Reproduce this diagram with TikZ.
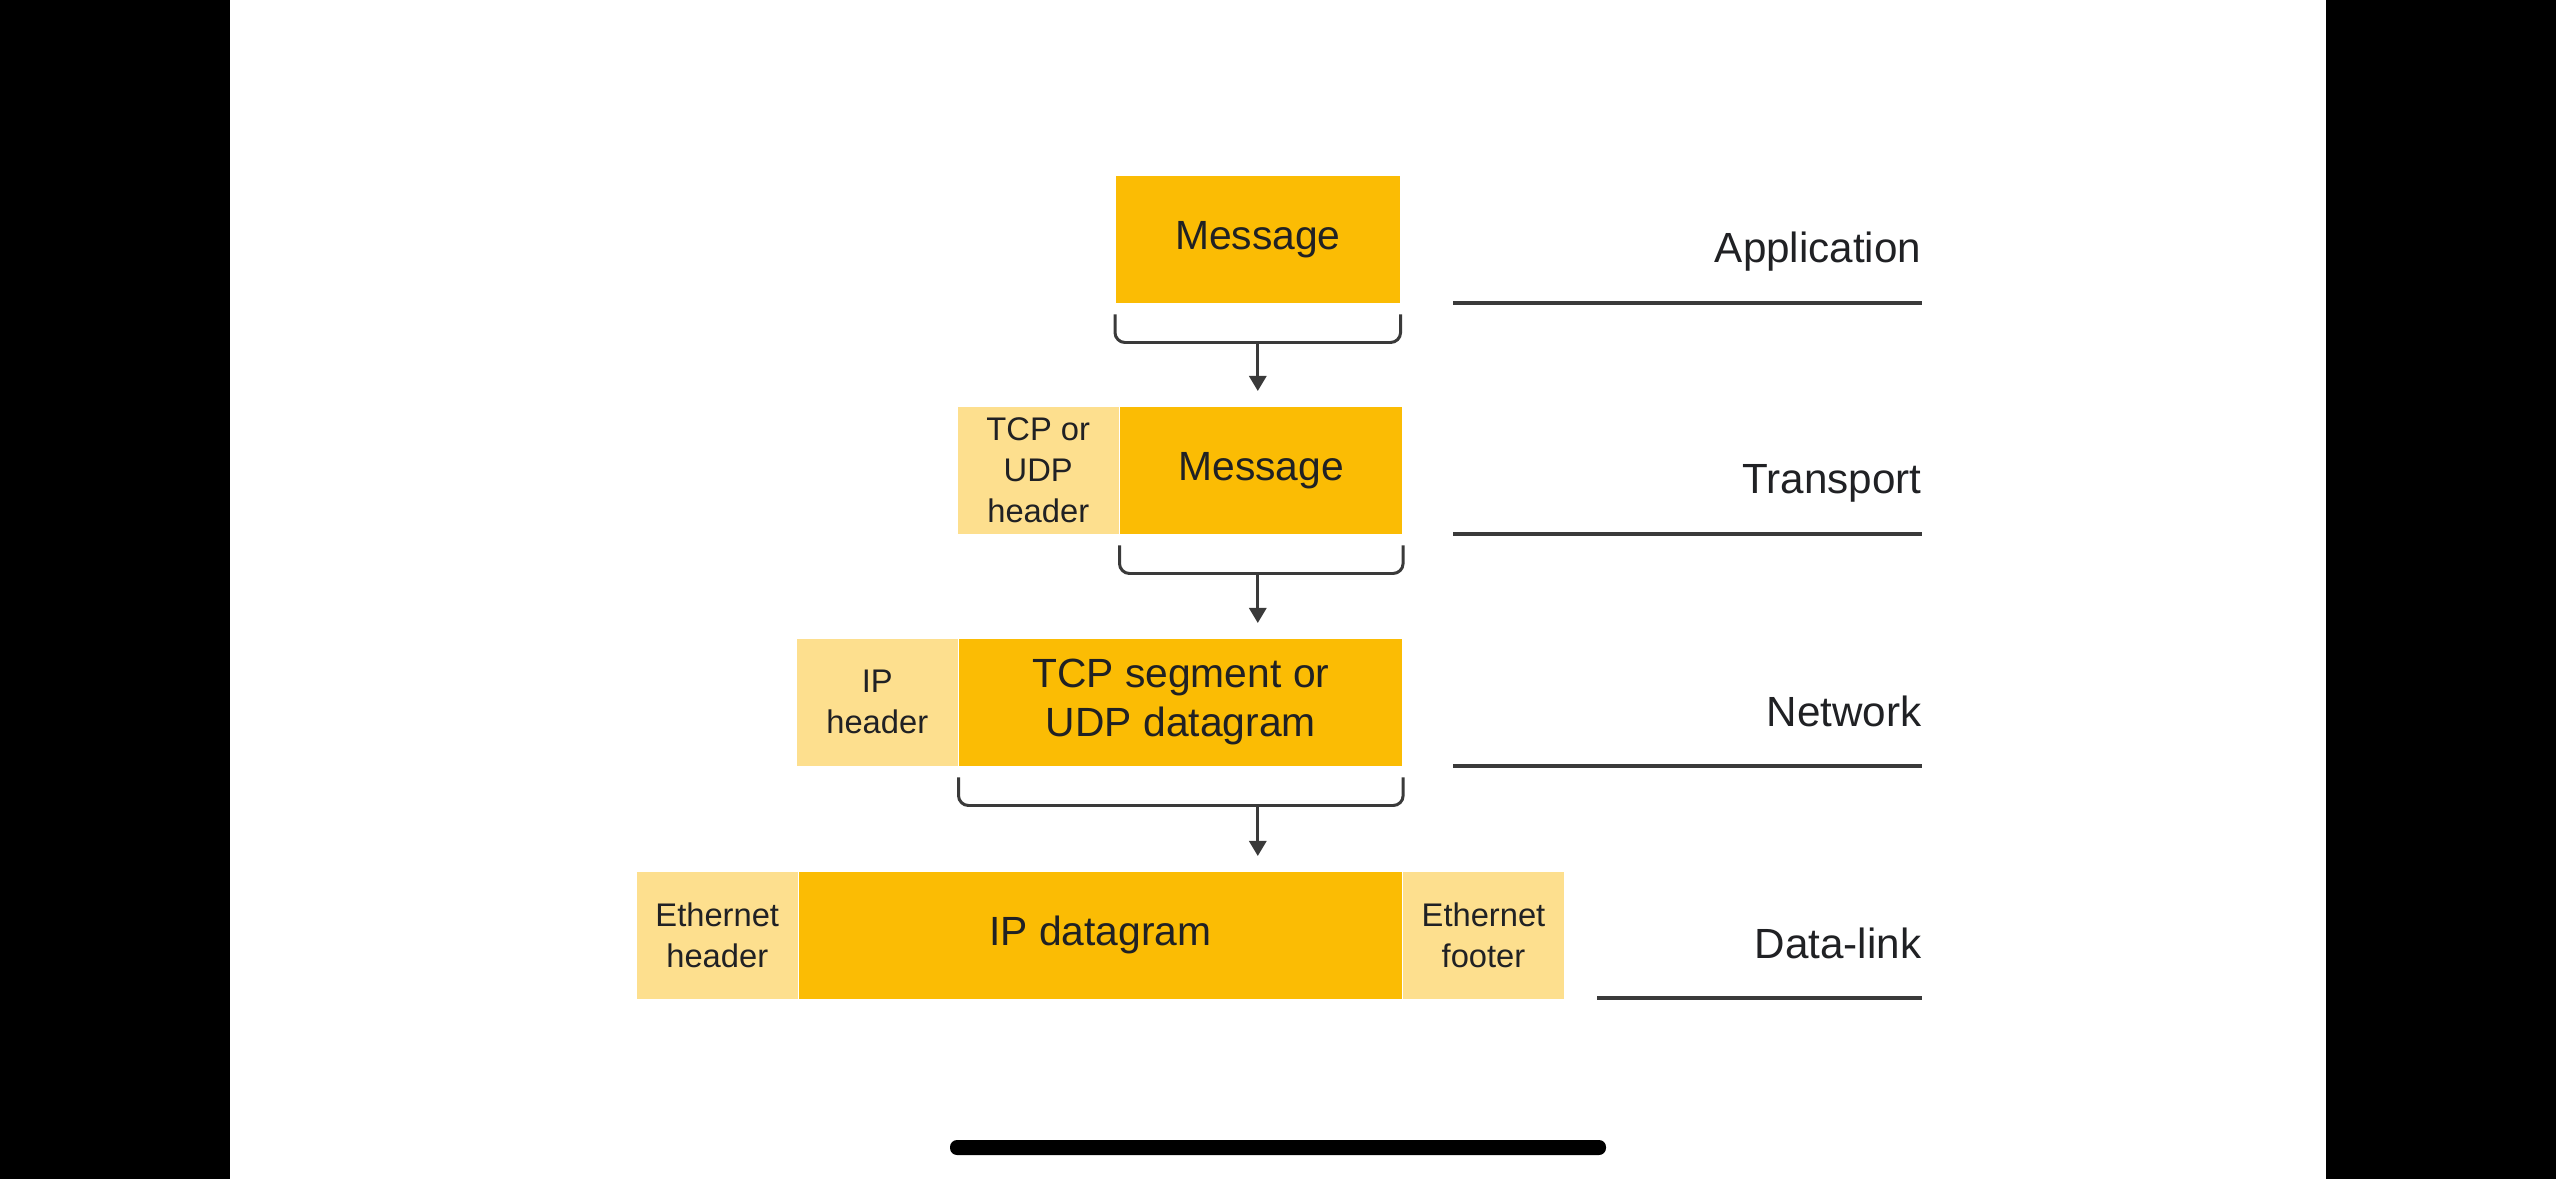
\documentclass[tikz,border=0pt]{standalone}
\usepackage{fontspec}
\setmainfont{Liberation Sans}
\usetikzlibrary{arrows.meta}
\definecolor{pktmain}{HTML}{FBBC04}
\definecolor{pktlight}{HTML}{FDDF8E}
\definecolor{pktline}{HTML}{3A3A3A}
\definecolor{pkttext}{HTML}{202124}
\begin{document}
\begin{tikzpicture}[x=0.01cm,y=-0.01cm,
	every node/.style={inner sep=0pt,text=pkttext},
	main/.style={fill=pktmain,anchor=north west,minimum height=1.27cm,align=center,font=\fontsize{11.6}{14}\selectfont},
	side/.style={fill=pktlight,anchor=north west,minimum height=1.27cm,minimum width=1.61cm,align=center,font=\fontsize{9.3}{11.6}\selectfont},
	layer/.style={anchor=base east,font=\fontsize{12}{14}\selectfont},
	rule/.style={pktline,line width=1pt},
	brace/.style={pktline,line width=0.85pt,rounded corners=0.1cm},
	down/.style={pktline,line width=0.85pt,shorten >=0.15cm,-{Triangle[length=1.5mm,width=1.7mm]}}]
	\useasboundingbox (0,0) rectangle (2556,1179);
	\fill [black] (0,0) rectangle (2556,1179);
	\fill [white] (230,0) rectangle (2326,1179);
	\fill [black,rounded corners=0.07cm] (950,1140) rectangle (1606,1155);
	\node [main,minimum width=2.84cm] (msgA) at (1115,175) {Message};
	\node [side] (tcph) at (957,406) {TCP or\\UDP\\header};
	\node [main,minimum width=2.82cm] (msgT) at (tcph.north east) {Message};
	\node [side] (iph) at (796,638) {IP\\header};
	\node [main,minimum width=4.43cm] (seg) at (iph.north east) {TCP segment or\\UDP datagram};
	\node [side] (ethh) at (636,871) {Ethernet\\header};
	\node [main,minimum width=6.02cm] (ipd) at (ethh.north east) {IP datagram};
	\node [side] (ethf) at (ipd.north east) {Ethernet\\footer};
	\draw [brace] ([yshift=-0.11cm]msgA.south west) |- ([yshift=-0.39cm]msgA.south) -| ([yshift=-0.11cm]msgA.south east);
	\coordinate (bA) at ([yshift=-0.39cm]msgA.south);
	\draw [down] (bA) -- (bA |- msgT.north);
	\draw [brace] ([yshift=-0.11cm]msgT.south west) |- ([yshift=-0.39cm]msgT.south) -| ([yshift=-0.11cm]msgT.south east);
	\coordinate (bT) at ([yshift=-0.39cm]msgT.south -| bA);
	\draw [down] (bT) -- (bT |- seg.north);
	\draw [brace] ([yshift=-0.11cm]seg.south west) |- ([yshift=-0.39cm]seg.south) -| ([yshift=-0.11cm]seg.south east);
	\coordinate (bN) at ([yshift=-0.39cm]seg.south -| bA);
	\draw [down] (bN) -- (bN |- ipd.north);
	\node [layer] (lApp) at (1922,263) {Application};
	\draw [rule] (1453,303) -- (1922,303);
	\node [layer] (lTra) at (1922,494) {Transport};
	\draw [rule] (1453,534) -- (1922,534);
	\node [layer] (lNet) at (1922,726) {Network};
	\draw [rule] (1453,766) -- (1922,766);
	\node [layer] (lDat) at (1922,958) {Data-link};
	\draw [rule] (1597,998) -- (1922,998);
\end{tikzpicture}
\end{document}
